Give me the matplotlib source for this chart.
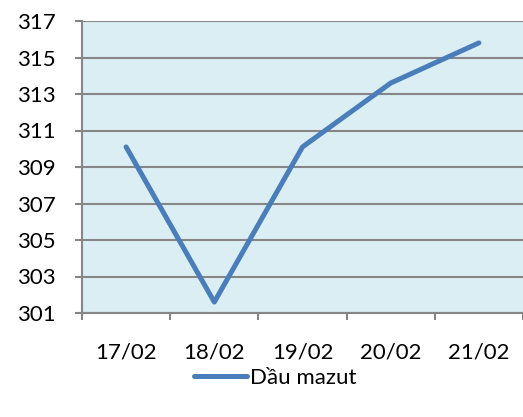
import matplotlib.pyplot as plt
from matplotlib.ticker import FixedLocator

dates = ["17/02", "18/02", "19/02", "20/02", "21/02"]
prices = [310.1, 301.6, 310.1, 313.6, 315.8]
series_name = "Dầu mazut"

plt.rcParams['font.family'] = ['Lato', 'DejaVu Sans']

fig = plt.figure(figsize=(5.23, 4.17), dpi=100)
ax = fig.add_axes([82 / 523, 1 - 313 / 417, 1 - 82 / 523, 292 / 417])
ax.set_facecolor('#DBEEF4')

x = list(range(len(dates)))
ax.plot(x, prices, color='#4A7EBB', linewidth=3.6, solid_capstyle='round',
        solid_joinstyle='round', label=series_name, zorder=3)

ax.set_xlim(-0.5, len(dates) - 0.5)
ax.set_ylim(301, 317)
ax.set_yticks(range(301, 318, 2))
ax.set_xticks(x)
ax.set_xticklabels(dates)
ax.xaxis.set_minor_locator(FixedLocator([i - 0.5 for i in range(len(dates) + 1)]))

ax.grid(axis='y', color='#868686', linewidth=1.5)
ax.set_axisbelow(True)
for side in ['top', 'right']:
    ax.spines[side].set_visible(False)
for side in ['left', 'bottom']:
    ax.spines[side].set_color('#868686')
    ax.spines[side].set_linewidth(1.5)

ax.tick_params(axis='y', length=5, width=1.5, color='#868686', pad=14, labelsize=16)
ax.tick_params(axis='x', which='major', length=0, pad=21, labelsize=16)
ax.tick_params(axis='x', which='minor', length=5, width=1.5, color='#868686')

fig.legend(loc='center', bbox_to_anchor=(275 / 523, 1 - 378 / 417), frameon=False,
           fontsize=16, handlelength=2.4, handletextpad=0.1)

fig.savefig('out.png', dpi=100)
